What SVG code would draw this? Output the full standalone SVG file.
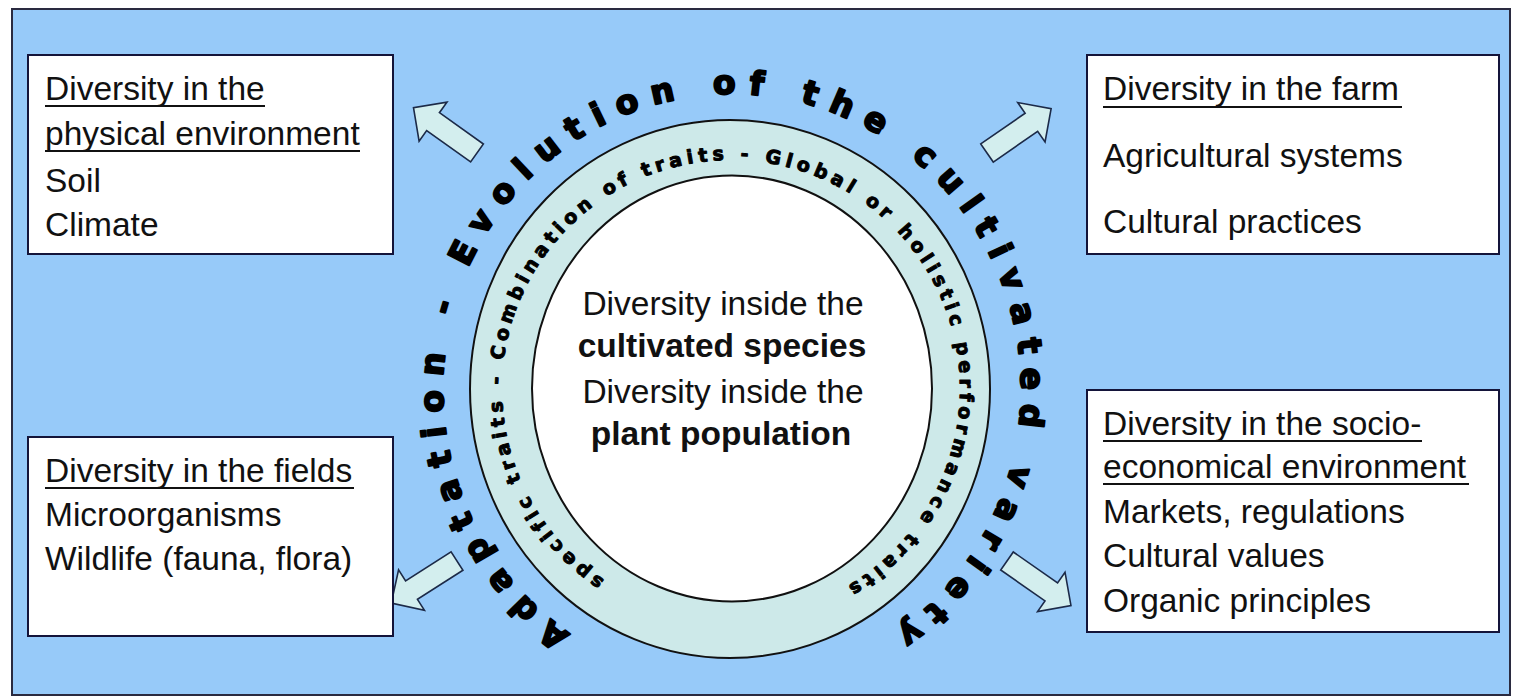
<svg xmlns="http://www.w3.org/2000/svg" width="1514" height="698" viewBox="0 0 1514 698">
<style>
.box{fill:#fff;stroke:#14143a;stroke-width:2}
.t{font-family:"Liberation Sans",Arial,sans-serif;font-size:33.5px;fill:#111}
.b{font-weight:bold}
.ul{stroke:#111;stroke-width:2}
.arrow{fill:#d3eeee;stroke:#1c2a48;stroke-width:1.6}
.outer{font-family:"DejaVu Sans",sans-serif;font-weight:bold;font-size:33px;letter-spacing:12.9px;fill:#000;stroke:#000;stroke-width:2;stroke-linejoin:round}
.inner{font-family:"DejaVu Sans",sans-serif;font-weight:bold;font-size:19px;letter-spacing:4.8px;fill:#000;stroke:#000;stroke-width:1;stroke-linejoin:round}
</style>
<defs>
<path id="outerPath" d="M578.9,639.2 A289,295 0 1 1 876.5,644.5"/>
<path id="innerPath" d="M609.6,583.2 A229,229 0 1 1 838.5,591.2"/>
<polygon id="arr" points="0,-11 54,-11 54,-24 78,0 54,24 54,11 0,11"/>
</defs>
<rect width="1514" height="698" fill="#fff"/>
<rect id="frame" x="12" y="9" width="1498" height="686" fill="#97caf9" stroke="#2a2a40" stroke-width="2"/>

<g id="connectors">
<use href="#arr" class="arrow" transform="translate(477,153) rotate(-144.5)"/>
<use href="#arr" class="arrow" transform="translate(987,153) rotate(-34.7)"/>
<use href="#arr" class="arrow" transform="translate(457,561) rotate(147.4)"/>
<use href="#arr" class="arrow" transform="translate(1007,561) rotate(34.9)"/>
</g>

<g id="hub">
<ellipse cx="730" cy="389" rx="260" ry="269" fill="#cde9e9" stroke="#111" stroke-width="2"/>
<ellipse cx="732" cy="388.5" rx="200" ry="213" fill="#fff" stroke="#111" stroke-width="2"/>
<text class="outer"><textPath href="#outerPath" startOffset="10">Adaptation - Evolution of the cultivated variety</textPath></text>
<text class="inner"><textPath href="#innerPath" startOffset="6">specific traits - Combination of traits - Global or holistic performance traits</textPath></text>
<text class="t" text-anchor="middle" x="723" y="315">Diversity inside the</text>
<text class="t b" text-anchor="middle" x="722" y="357">cultivated species</text>
<text class="t" text-anchor="middle" x="723" y="403">Diversity inside the</text>
<text class="t b" text-anchor="middle" x="721" y="445">plant population</text>
</g>

<g id="physical">
<rect class="box" x="28" y="55" width="365" height="199"/>
<text class="t" x="45" y="100">Diversity in the</text>
<line class="ul" x1="45" y1="106" x2="265" y2="106"/>
<text class="t" x="45" y="145">physical environment</text>
<line class="ul" x1="45" y1="151" x2="360" y2="151"/>
<text class="t" x="45" y="192">Soil</text>
<text class="t" x="45" y="236">Climate</text>
</g>

<g id="farm">
<rect class="box" x="1087" y="55" width="412" height="199"/>
<text class="t" x="1103" y="100">Diversity in the farm</text>
<line class="ul" x1="1103" y1="107" x2="1402" y2="107"/>
<text class="t" x="1103" y="167">Agricultural systems</text>
<text class="t" x="1103" y="233">Cultural practices</text>
</g>

<g id="fields">
<rect class="box" x="28" y="437" width="365" height="199"/>
<text class="t" x="45" y="482">Diversity in the fields</text>
<line class="ul" x1="45" y1="488" x2="354" y2="488"/>
<text class="t" x="45" y="526">Microorganisms</text>
<text class="t" x="45" y="570">Wildlife (fauna, flora)</text>
</g>

<g id="socio">
<rect class="box" x="1087" y="390" width="412" height="242"/>
<text class="t" x="1103" y="435">Diversity in the socio-</text>
<line class="ul" x1="1103" y1="441" x2="1422" y2="441"/>
<text class="t" x="1103" y="478">economical environment</text>
<line class="ul" x1="1103" y1="484" x2="1469" y2="484"/>
<text class="t" x="1103" y="523">Markets, regulations</text>
<text class="t" x="1103" y="567">Cultural values</text>
<text class="t" x="1103" y="612">Organic principles</text>
</g>
</svg>
